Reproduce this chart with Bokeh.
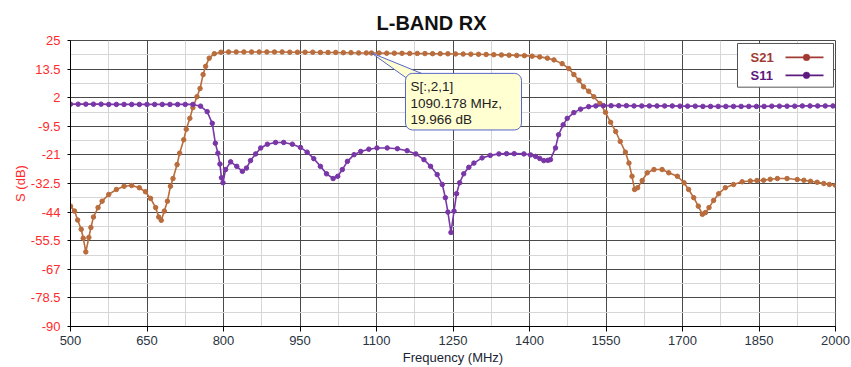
from bokeh.plotting import figure
from bokeh.models import Range1d, FixedTicker, BoxAnnotation, Label
from bokeh.embed import file_html
from bokeh.resources import INLINE

# ---------------- data ----------------
title_text = "L-BAND RX"
x_label = "Frequency (MHz)"
y_label = "S (dB)"

x_ticks = [500, 650, 800, 950, 1100, 1250, 1400, 1550, 1700, 1850, 2000]
x_tick_labels = ["500", "650", "800", "950", "1100", "1250", "1400", "1550", "1700", "1850", "2000"]
x_minor = [575, 725, 875, 1025, 1175, 1325, 1475, 1625, 1775, 1925]

y_ticks = [25, 13.5, 2, -9.5, -21, -32.5, -44, -55.5, -67, -78.5, -90]
y_tick_labels = ["25", "13.5", "2", "-9.5", "-21", "-32.5", "-44", "-55.5", "-67", "-78.5", "-90"]
y_minor = [19.25, 7.75, -3.75, -15.25, -26.75, -38.25, -49.75, -61.25, -72.75, -84.25]

s21_freq = [500, 508, 514, 521, 525, 530, 536, 540, 545, 554, 562, 575, 590, 605, 620, 635, 647, 657,
            667, 673, 678, 684, 690, 696, 701, 709, 714, 722, 727, 734, 740, 748, 754, 760, 765, 772,
            782, 795, 810, 825, 840, 855, 870, 885, 900, 915, 930, 945, 960, 975, 990, 1005, 1020,
            1035, 1050, 1065, 1080, 1090.178, 1105, 1120, 1135, 1150, 1165, 1180, 1195, 1210, 1225,
            1240, 1255, 1270, 1285, 1300, 1315, 1330, 1345, 1360, 1375, 1390, 1405, 1420, 1435, 1448,
            1464, 1477, 1487, 1497, 1506, 1516, 1526, 1538, 1549, 1559, 1569, 1578, 1588, 1595, 1601,
            1606, 1612, 1621, 1631, 1644, 1660, 1673, 1690, 1703, 1712, 1722, 1731, 1739, 1745, 1752,
            1761, 1771, 1784, 1800, 1817, 1833, 1846, 1859, 1872, 1886, 1905, 1925, 1938, 1951, 1964,
            1977, 1988, 2000]
s21_db = [-41.6, -43.6, -47.2, -50.9, -54.5, -60.0, -54.2, -50.2, -46.0, -42.2, -39.6, -36.9, -34.9,
          -33.6, -33.3, -34.2, -35.8, -38.5, -42.2, -46.0, -47.3, -43.6, -39.6, -33.6, -30.5, -24.9,
          -20.3, -14.9, -10.7, -6.3, -2.0, 2.4, 5.7, 11.3, 14.6, 17.9, 19.7, 20.3, 20.4, 20.4, 20.4,
          20.4, 20.4, 20.4, 20.4, 20.4, 20.3, 20.3, 20.3, 20.3, 20.2, 20.2, 20.2, 20.1, 20.1, 20.0,
          20.0, 19.966, 19.95, 19.9, 19.9, 19.85, 19.8, 19.8, 19.75, 19.7, 19.7, 19.65, 19.6, 19.55,
          19.5, 19.45, 19.4, 19.3, 19.2, 19.1, 19.0, 18.9, 18.7, 18.4, 17.9, 17.2, 15.7, 13.7, 11.3,
          9.0, 6.4, 4.6, 2.4, -0.3, -3.9, -7.9, -11.6, -15.6, -19.9, -24.3, -29.6, -34.9, -34.2,
          -31.3, -28.2, -26.9, -26.9, -28.2, -29.6, -32.2, -34.9, -38.2, -41.6, -44.9, -44.2, -42.2,
          -39.3, -36.6, -34.2, -32.9, -31.8, -31.5, -31.3, -31.2, -30.8, -30.5, -30.5, -30.9, -31.2,
          -31.6, -32.0, -32.5, -32.9, -33.2]

s11_freq = [500, 515, 530, 545, 560, 575, 590, 605, 620, 635, 650, 665, 680, 695, 710, 725, 740, 755,
            768, 778, 784, 789, 793, 796, 799, 804, 814, 826, 837, 845, 853, 863, 873, 886, 902, 918,
            935, 951, 964, 977, 990, 1002, 1015, 1024, 1033, 1043, 1056, 1069, 1085, 1101, 1121, 1141,
            1160, 1177, 1193, 1206, 1219, 1229, 1235, 1240, 1246, 1252, 1257, 1263, 1271, 1281, 1291,
            1307, 1323, 1340, 1355, 1370, 1389, 1402, 1412, 1420, 1428, 1436, 1441, 1451, 1457, 1466,
            1474, 1487, 1500, 1516, 1530, 1545, 1560, 1575, 1590, 1605, 1620, 1635, 1650, 1665, 1680,
            1695, 1710, 1725, 1740, 1755, 1770, 1785, 1800, 1815, 1830, 1845, 1860, 1875, 1890, 1905,
            1920, 1935, 1950, 1965, 1980, 1995]
s11_db = [-0.6, -0.6, -0.6, -0.6, -0.6, -0.7, -0.7, -0.7, -0.7, -0.7, -0.7, -0.7, -0.7, -0.7, -0.7,
          -0.7, -0.7, -1.4, -3.6, -8.3, -16.3, -20.3, -24.7, -30.2, -32.2, -26.9, -23.8, -25.6, -27.6,
          -26.3, -23.3, -20.6, -18.2, -16.7, -16.0, -16.0, -16.7, -18.0, -19.9, -22.5, -25.6, -28.6,
          -30.5, -29.6, -26.9, -23.6, -20.9, -19.6, -18.7, -18.2, -18.2, -18.5, -19.3, -20.6, -22.9,
          -25.6, -28.9, -32.9, -38.2, -44.0, -52.2, -43.6, -36.6, -32.2, -28.6, -26.0, -24.3, -22.2,
          -21.2, -20.6, -20.5, -20.5, -20.6, -21.0, -21.6, -22.4, -23.3, -23.2, -22.9, -18.2, -12.9,
          -8.9, -6.3, -4.0, -2.6, -1.6, -1.3, -1.2, -1.2, -1.2, -1.2, -1.3, -1.3, -1.3, -1.3, -1.3,
          -1.3, -1.4, -1.4, -1.4, -1.5, -1.5, -1.5, -1.5, -1.5, -1.5, -1.5, -1.5, -1.5, -1.4, -1.4,
          -1.4, -1.4, -1.3, -1.3, -1.3, -1.3, -1.3]

marker_freq = 1090.178
marker_db = 19.966
marker_lines = ["S[:,2,1]", "1090.178 MHz,", "19.966 dB"]

series_names = ["S21", "S11"]

# ---------------- styles ----------------
FONT = "Liberation Sans"
C21 = "#B96C3C"
C11 = "#7936A6"
C21_LEG = "#A13A33"
C11_LEG = "#5C1A7E"
MAJ_GRID = "#4a4a4a"
MIN_GRID = "#d6d6d6"

p = figure(width=851, height=367, output_backend="svg", toolbar_location=None,
           x_range=Range1d(500, 2000), y_range=Range1d(-90, 25),
           min_border_left=70, min_border_right=16, min_border_top=40, min_border_bottom=39,
           title=title_text)
p.background_fill_color = "white"
p.border_fill_color = "white"
p.outline_line_color = MAJ_GRID

p.title.text_font = FONT
p.title.text_font_size = "20px"
p.title.text_font_style = "bold"
p.title.text_color = "#111111"
p.title.align = "left"
p.title.offset = 306
p.title.vertical_align = "middle"
p.title.standoff = 12

# axes
p.xaxis.ticker = FixedTicker(ticks=x_ticks, minor_ticks=x_minor)
p.yaxis.ticker = FixedTicker(ticks=y_ticks, minor_ticks=y_minor)
p.xaxis.major_label_overrides = {t: l for t, l in zip(x_ticks, x_tick_labels)}
p.yaxis.major_label_overrides = {t: l for t, l in zip(y_ticks, y_tick_labels)}

for ax in (p.xaxis[0], p.yaxis[0]):
    ax.axis_line_color = "black"
    ax.major_tick_line_color = "black"
    ax.minor_tick_line_color = None
    ax.major_tick_in = 0
    ax.major_label_text_font = FONT
    ax.major_label_text_font_size = "13px"
    ax.axis_label_text_font = FONT
    ax.axis_label_text_font_size = "13px"
    ax.axis_label_text_font_style = "normal"

p.xaxis.major_tick_out = 5
p.xaxis.major_label_standoff = 4
p.xaxis.major_label_text_color = "#2a3440"
p.xaxis.axis_label = x_label
p.xaxis.axis_label_standoff = 2
p.xaxis.axis_label_text_color = "#1a2433"

p.yaxis.major_tick_out = 3
p.yaxis.major_label_standoff = 6
p.yaxis.major_label_text_color = "#FF2A2A"
p.yaxis.axis_label = y_label
p.yaxis.axis_label_standoff = 0
p.yaxis.axis_label_text_color = "#FF2A2A"

# grids
for g in (p.xgrid[0], p.ygrid[0]):
    g.grid_line_color = MAJ_GRID
    g.grid_line_width = 1
    g.minor_grid_line_color = MIN_GRID
    g.minor_grid_line_width = 1

# curves
p.line(s21_freq, s21_db, line_color=C21, line_width=1.6)
p.scatter(s21_freq, s21_db, size=4.5, fill_color=C21, line_color=C21)
p.line(s11_freq, s11_db, line_color=C11, line_width=1.6)
p.scatter(s11_freq, s11_db, size=4.5, fill_color=C11, line_color=C11)

# ---------------- callout ----------------
px_per_mhz = 765 / 1500.0
px_per_db = 288 / 115.0
box_left = marker_freq + 34 / px_per_mhz
box_right = box_left + 116 / px_per_mhz
box_top = marker_db - 20.5 / px_per_db
box_bottom = box_top - 57 / px_per_db

p.patch([marker_freq, box_left, box_left + 16 / px_per_mhz],
        [marker_db, box_top - 4 / px_per_db, box_top],
        fill_color="#FFFFD2", line_color="#5665C8", line_width=1)
p.add_layout(BoxAnnotation(left=box_left, right=box_right, top=box_top, bottom=box_bottom,
                           fill_color="#FFFFD2", fill_alpha=1.0, line_color="#5665C8",
                           line_width=1, line_alpha=1.0, border_radius=7))
p.add_layout(Label(x=box_left, y=box_top, x_offset=5, y_offset=-6,
                   text="\n".join(marker_lines), text_font=FONT,
                   text_font_size="13.5px", text_color="#222222",
                   text_align="left", text_baseline="top", text_line_height=1.1))

# ---------------- legend (text left, sample right) ----------------
leg_left = 500 + (737 - 70) / px_per_mhz
leg_right = 500 + (833 - 70) / px_per_mhz
leg_top = 25 - (43 - 40) / px_per_db
leg_bottom = 25 - (87 - 40) / px_per_db
p.add_layout(BoxAnnotation(left=leg_left, right=leg_right, top=leg_top, bottom=leg_bottom,
                           fill_color="white", fill_alpha=1.0, line_color="#555555",
                           line_width=1, line_alpha=1.0))
row_y = [25 - (57 - 40) / px_per_db, 25 - (75 - 40) / px_per_db]
txt_x = 500 + (750 - 70) / px_per_mhz
ln_x0 = 500 + (785 - 70) / px_per_mhz
ln_x1 = 500 + (823 - 70) / px_per_mhz
mk_x = 500 + (806 - 70) / px_per_mhz
for name, yy, col in zip(series_names, row_y, [C21_LEG, C11_LEG]):
    p.add_layout(Label(x=txt_x, y=yy, text=name, text_font=FONT, text_font_size="13px",
                       text_font_style="bold", text_color=col, text_baseline="middle",
                       text_align="left"))
    p.add_layout(BoxAnnotation(left=ln_x0, right=ln_x1, top=yy + 0.35, bottom=yy - 0.35,
                               fill_color=col, fill_alpha=1.0, line_color=None))
    p.add_layout(BoxAnnotation(left=mk_x - 3.4 / px_per_mhz, right=mk_x + 3.4 / px_per_mhz,
                               top=yy + 3.4 / px_per_db, bottom=yy - 3.4 / px_per_db,
                               fill_color=col, fill_alpha=1.0, line_color=col,
                               border_radius=4))

open("out.html", "w").write(file_html(p, INLINE))
